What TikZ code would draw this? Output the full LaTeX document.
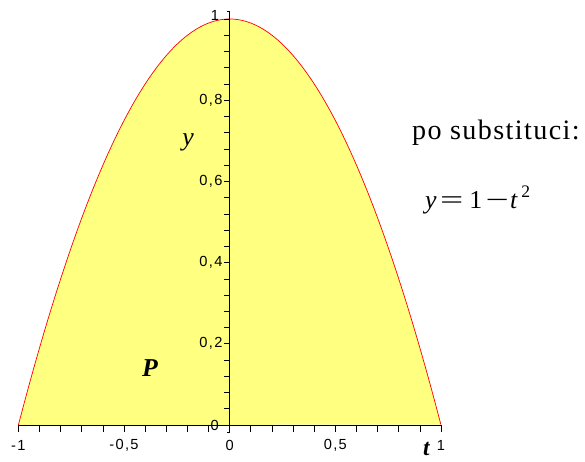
\documentclass[tikz,border=0pt]{standalone}
\usepackage{graphicx}
\usepackage{fontspec}
\setmainfont{Liberation Serif}
\newfontfamily\ticksfont[LetterSpace=9]{Liberation Sans}
\newfontfamily\widefont[LetterSpace=5]{Liberation Serif}
\definecolor{areafill}{RGB}{255,255,128}
\begin{document}
\begin{tikzpicture}[x=6.339cm,y=12.18cm,every node/.style={inner sep=0pt}]
\tikzset{ticklbl/.style={font=\ticksfont\fontsize{12.5}{13}\selectfont}}
\useasboundingbox (-1.0871,-0.0887) rectangle (1.6815,1.0468);
% area under the parabola
\fill[areafill] plot[domain=-1:1,samples=81,smooth] (\x,{1-\x*\x}) -- cycle;
\draw[red,line width=0.6pt] plot[domain=-1:1,samples=81,smooth] (\x,{1-\x*\x});
% axes
\draw[line width=0.6pt] (-1,0) -- (1,0);
\draw[line width=0.6pt] (-0.012,-0.017) -- (0,-0.017) -- (0,1.02) -- (-0.012,1.02);
\foreach \i in {-10,...,10}
  \draw[line width=0.6pt] (\i/10,0) -- ++(0,-0.2cm);
\foreach \j in {0,...,25}
  \draw[line width=0.6pt] (0,\j*0.04) -- ++(-0.16cm,0);
% tick labels
\foreach \v/\s [count=\k] in {-1/{-1},-0.5/{-0,5},0/{0},0.5/{0,5},1/{1}}
  \node[ticklbl] (xl\k) at (\v,-0.051) {\s};
\foreach \v/\s [count=\k] in {0.2/{0,2},0.4/{0,4},0.6/{0,6},0.8/{0,8}}
  \node[ticklbl,anchor=east] (yl\k) at (-0.033,\v) {\s};
\node[ticklbl,anchor=east] (y0) at (-0.051,-0.002) {0};
\node[ticklbl,anchor=east] (y1) at (-0.049,1.008) {1};
% labels
\node[font=\fontsize{22}{24}\selectfont\itshape] (ylab) at (-0.197,0.695) {y};
\node[font=\fontsize{20}{22}\selectfont\bfseries\itshape,anchor=base] (tlab) at (0.931,-0.075) {t};
\node[font=\fontsize{22}{24}\selectfont\bfseries\itshape] (plab) at (-0.377,0.140) {P};
\node[font=\widefont\fontsize{24}{26}\selectfont,anchor=base] (subst) at (1.260,0.702) {po substituci:};
\node[font=\fontsize{22}{24}\selectfont,anchor=base west] (eq) at (0.924,0.532)
  {\textit{y}\hspace{3pt}\scalebox{1.6}[1]{=}\hspace{5pt}1\hspace{3pt}\scalebox{1.6}[1]{−}\hspace{1pt}\textit{t}\hspace{3pt}\raisebox{0.45em}{\fontsize{15}{16}\selectfont 2}};
\end{tikzpicture}
\end{document}
